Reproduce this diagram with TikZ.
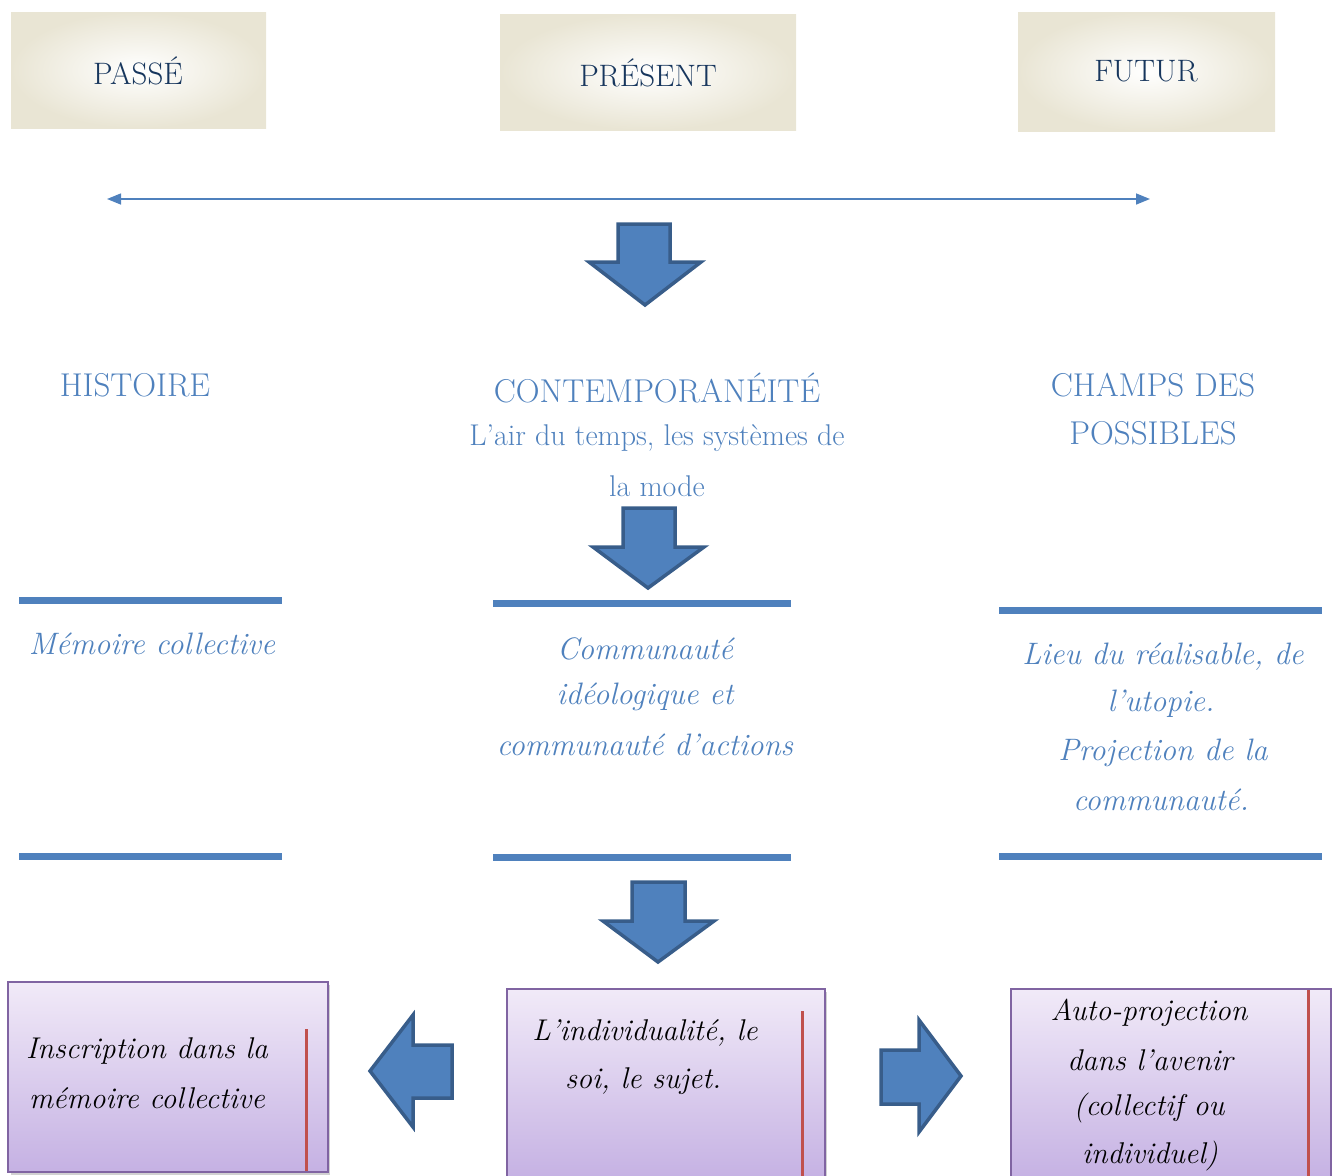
\documentclass[tikz,border=0pt]{standalone}
\usetikzlibrary{arrows.meta}
\definecolor{accent}{HTML}{4F81BD}
\definecolor{accentdark}{HTML}{385D8A}
\definecolor{navy}{HTML}{17365D}
\definecolor{beige}{HTML}{E9E5D4}
\definecolor{purpleborder}{HTML}{8064A2}
\definecolor{purpletop}{HTML}{F1EAF8}
\definecolor{purplebot}{HTML}{C5B1E3}
\definecolor{redline}{HTML}{C0504D}
\tikzset{
  topbox/.style={inner color=white, outer color=beige},
  toptext/.style={text=navy, font=\fontsize{31}{31}\selectfont},
  heading/.style={text=accent, font=\fontsize{33}{33}\selectfont, align=center},
  subhead/.style={text=accent, font=\fontsize{30}{30}\selectfont},
  itext/.style={text=accent, font=\itshape\fontsize{31}{31}\selectfont},
  btext/.style={text=black, font=\itshape\fontsize{30}{30}\selectfont},
  rule/.style={draw=accent, line width=7pt},
  blockarrow/.style={fill=accent, draw=accentdark, line width=3.5pt, line join=miter},
  purplebox/.style={top color=purpletop, bottom color=purplebot, draw=purpleborder, line width=1.5pt},
  redbar/.style={draw=redline, line width=3pt},
  boxshadow/.style={fill=black!18},
}
\begin{document}
\begin{tikzpicture}[x=1pt,y=-1pt]
\useasboundingbox (0,0) rectangle (1332,1175);
% top boxes
\shade[topbox] (11,12) rectangle (266,128);
\node[toptext] (passe) at (138,71) {PASSÉ};
\shade[topbox] (500,14) rectangle (796,130);
\node[toptext] (present) at (648,73) {PRÉSENT};
\shade[topbox] (1018,12) rectangle (1275,131);
\node[toptext] (futur) at (1146,71) {FUTUR};
% timeline
\coordinate (tl) at (107,199);
\coordinate (tr) at (1150,199);
\draw[accent, line width=1.5pt, {Triangle[length=14pt,width=11pt]}-{Triangle[length=14pt,width=11pt]}] (tl) -- (tr);
% down arrow 1
\draw[blockarrow] (618,224) -- (670,224) -- (670,262) -- (701,262) -- (645,305) -- (589,262) -- (618,262) -- cycle;
% headings
\node[heading] (histoire) at (135,385) {HISTOIRE};
\node[heading] (contemp) at (657,388) {CONTEMPORANÉITÉ};
\node[subhead] (air1) at (657,438) {L’air du temps, les systèmes de};
\node[subhead] (air2) at (657,486) {la mode};
\node[heading] (champs1) at (1153,385) {CHAMPS DES};
\node[heading] (champs2) at (1153,433) {POSSIBLES};
% down arrow 2
\draw[blockarrow] (623,508) -- (675,508) -- (675,547) -- (704,547) -- (648,588) -- (593,547) -- (623,547) -- cycle;
% rules
\draw[rule] (19,600) -- (282,600);
\draw[rule] (19,856) -- (282,856);
\draw[rule] (493,603) -- (791,603);
\draw[rule] (493,857) -- (791,857);
\draw[rule] (999,610) -- (1322,610);
\draw[rule] (999,856) -- (1322,856);
% italic texts
\node[itext] (memoire) at (152,644) {Mémoire collective};
\node[itext] (comm1) at (645,649) {Communauté};
\node[itext] (comm2) at (645,697) {idéologique et};
\node[itext] (comm3) at (645,745) {communauté d’actions};
\node[itext] (lieu1) at (1163,657) {Lieu du réalisable, de};
\node[itext] (lieu2) at (1161,704) {l’utopie.};
\node[itext] (lieu3) at (1163,753) {Projection de la};
\node[itext] (lieu4) at (1161,800) {communauté.};
% down arrow 3
\draw[blockarrow] (632,882) -- (685,882) -- (685,921) -- (714,921) -- (658,962) -- (603,921) -- (632,921) -- cycle;
% bottom boxes
\fill[boxshadow] (11,985) rectangle (330,1175);
\draw[purplebox] (8,982) rectangle (328,1172);
\draw[redbar] (306,1029) -- (306,1171);
\node[btext] (insc1) at (147,1051) {Inscription dans la};
\node[btext] (insc2) at (147,1098) {mémoire collective};
\fill[boxshadow] (510,992) rectangle (827,1180);
\draw[purplebox] (507,989) rectangle (825,1180);
\draw[redbar] (802,1011) -- (802,1180);
\node[btext] (ind1) at (645,1033) {L’individualité, le};
\node[btext] (ind2) at (643,1081) {soi, le sujet.};
\fill[boxshadow] (1014,992) rectangle (1335,1180);
\draw[purplebox] (1011,989) rectangle (1331,1180);
\draw[redbar] (1308,990) -- (1308,1180);
\node[btext] (auto1) at (1149,1013) {Auto-projection};
\node[btext] (auto2) at (1150,1060) {dans l’avenir};
\node[btext] (auto3) at (1149,1108) {(collectif ou};
\node[btext] (auto4) at (1150,1156) {individuel)};
% left arrow
\draw[blockarrow] (452,1045) -- (413,1045) -- (413,1015) -- (370,1071) -- (413,1127) -- (413,1098) -- (452,1098) -- cycle;
% right arrow
\draw[blockarrow] (881,1050) -- (919,1050) -- (919,1020) -- (961,1076) -- (919,1132) -- (919,1104) -- (881,1104) -- cycle;
\end{tikzpicture}
\end{document}
